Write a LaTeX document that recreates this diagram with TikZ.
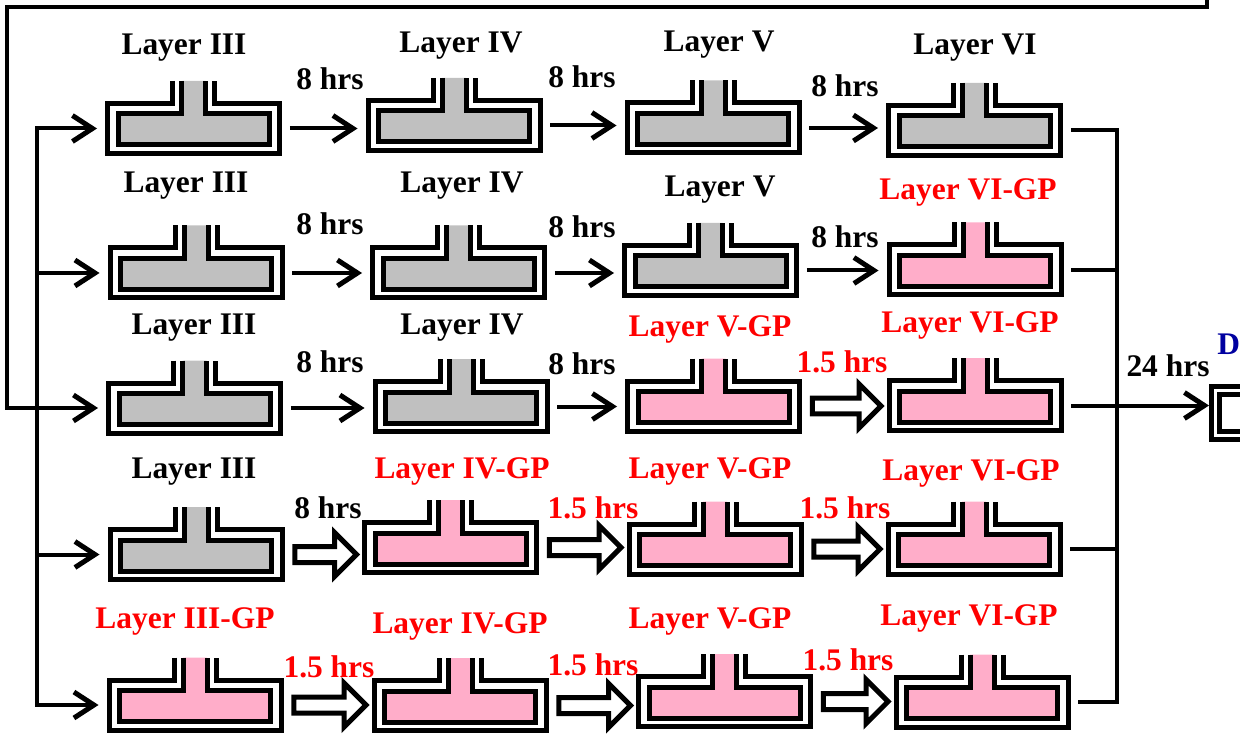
\documentclass[tikz,border=0pt]{standalone}
\usepackage{fontspec}
\setmainfont{Liberation Serif}
\usepackage{xcolor}
\usetikzlibrary{positioning, shapes.arrows, arrows.meta, calc}

\definecolor{moldgrey}{HTML}{C0C0C0}
\definecolor{gppink}{HTML}{FFADC9}
\definecolor{dryblue}{HTML}{0000A0}

\tikzset{
  moldline/.style={line width=1mm, line join=miter},
  link/.style={line width=0.8mm},
  flow/.style={link, -{Straight Barb[length=4mm, width=5.2mm, line width=1mm]}},
  fatarrow/.style={single arrow, draw, fill=white, line width=1mm, inner xsep=0pt, inner ysep=1.1mm,
    single arrow head extend=2.8mm, anchor=tail},
  hollow/.style={to path={let \p1=(\tikztostart), \p2=(\tikztotarget), \n1={veclen(\x2-\x1,\y2-\y1)} in
    node[fatarrow, minimum height=\n1] at (\tikztostart) {}}},
  lab/.style={font=\bfseries\fontsize{17.9pt}{20pt}\selectfont, inner sep=0pt, anchor=base},
  gp/.style={lab, text=red},
  moldbox/.style={minimum width=34.4mm, minimum height=10mm, inner sep=0pt, outer xsep=2.1mm},
  drybox/.style={draw, moldline, minimum width=4cm, minimum height=10.6mm, inner sep=0pt},
  pics/mold/.style={code={
    \fill[#1] (-12,-47.5) -- (-12,-14.5) -- (-75.5,-14.5) -- (-75.5,16.5) -- (75.5,16.5) -- (75.5,-14.5) -- (12,-14.5) -- (12,-47.5) -- cycle;
    \draw[moldline] (-12,-47.5) -- (-12,-14.5) -- (-75.5,-14.5) -- (-75.5,16.5) -- (75.5,16.5) -- (75.5,-14.5) -- (12,-14.5) -- (12,-47.5);
    \draw[moldline] (-21,-47.5) -- (-21,-25) -- (-86,-25) -- (-86,25) -- (86,25) -- (86,-25) -- (21,-25) -- (21,-47.5);
    \node[moldbox] (-b) at (0,0) {};
  }}
}

\begin{document}
\begin{tikzpicture}[x=0.02cm, y=-0.02cm]
  \clip (0,0) rectangle (1240,736);

  % Row 1: all layers plain
  \pic (m11) at (193.5,128.5) {mold=moldgrey};
  \pic (m12) at (454,125.5) {mold=moldgrey};
  \pic (m13) at (713,128) {mold=moldgrey};
  \pic (m14) at (974.5,130.5) {mold=moldgrey};
  \node[lab] (l11) at (184,55) {Layer III};
  \node[lab] (l12) at (461,53) {Layer IV};
  \node[lab] (l13) at (719,52) {Layer V};
  \node[lab] (l14) at (975,55) {Layer VI};
  \node[lab] (t11) at (330,90) {8 hrs};
  \node[lab] (t12) at (582,88) {8 hrs};
  \node[lab] (t13) at (845,97) {8 hrs};
  \draw[flow] (m11-b.east) -- (m11-b.east -| m12-b.west);
  \draw[flow] (m12-b.east) -- (m12-b.east -| m13-b.west);
  \draw[flow] (m13-b.east) -- (m13-b.east -| m14-b.west);

  % Row 2: GP on layer VI
  \pic (m21) at (196,273) {mold=moldgrey};
  \pic (m22) at (458.5,273) {mold=moldgrey};
  \pic (m23) at (710.5,270.5) {mold=moldgrey};
  \pic (m24) at (975,270) {mold=gppink};
  \node[lab] (l21) at (186,193) {Layer III};
  \node[lab] (l22) at (462,193) {Layer IV};
  \node[lab] (l23) at (720,197) {Layer V};
  \node[gp] (l24) at (968,200) {Layer VI-GP};
  \node[lab] (t21) at (330,235) {8 hrs};
  \node[lab] (t22) at (582,238) {8 hrs};
  \node[lab] (t23) at (845,248) {8 hrs};
  \draw[flow] (m21-b.east) -- (m21-b.east -| m22-b.west);
  \draw[flow] (m22-b.east) -- (m22-b.east -| m23-b.west);
  \draw[flow] (m23-b.east) -- (m23-b.east -| m24-b.west);

  % Row 3: GP on layers V and VI
  \pic (m31) at (194.5,408) {mold=moldgrey};
  \pic (m32) at (461,406.5) {mold=moldgrey};
  \pic (m33) at (713.5,406) {mold=gppink};
  \pic (m34) at (975,405.5) {mold=gppink};
  \node[lab] (l31) at (194,335) {Layer III};
  \node[lab] (l32) at (462,335) {Layer IV};
  \node[gp] (l33) at (710,337) {Layer V-GP};
  \node[gp] (l34) at (970,333) {Layer VI-GP};
  \node[lab] (t31) at (330,373) {8 hrs};
  \node[lab] (t32) at (582,375) {8 hrs};
  \node[gp] (t33) at (842,372) {1.5 hrs};
  \draw[flow] (m31-b.east) -- (m31-b.east -| m32-b.west);
  \draw[flow] (m32-b.east) -- (m32-b.east -| m33-b.west);
  \path[hollow] (m33-b.east) to (m33-b.east -| m34-b.west);

  % Row 4: GP from layer IV
  \pic (m41) at (196,554.5) {mold=moldgrey};
  \pic (m42) at (450.5,547.5) {mold=gppink};
  \pic (m43) at (715,549) {mold=gppink};
  \pic (m44) at (974,549) {mold=gppink};
  \node[lab] (l41) at (194,478) {Layer III};
  \node[gp] (l42) at (462,478) {Layer IV-GP};
  \node[gp] (l43) at (710,478) {Layer V-GP};
  \node[gp] (l44) at (971,480) {Layer VI-GP};
  \node[lab] (t41) at (328,518) {8 hrs};
  \node[gp] (t42) at (593,518) {1.5 hrs};
  \node[gp] (t43) at (845,518) {1.5 hrs};
  \path[hollow] (m41-b.east) to (m41-b.east -| m42-b.west);
  \path[hollow] (m42-b.east) to (m42-b.east -| m43-b.west);
  \path[hollow] (m43-b.east) to (m43-b.east -| m44-b.west);

  % Row 5: GP on every layer
  \pic (m51) at (195,705) {mold=gppink};
  \pic (m52) at (460,705.5) {mold=gppink};
  \pic (m53) at (724.5,701.5) {mold=gppink};
  \pic (m54) at (982,702) {mold=gppink};
  \node[gp] (l51) at (185,628) {Layer III-GP};
  \node[gp] (l52) at (460,633) {Layer IV-GP};
  \node[gp] (l53) at (710,628) {Layer V-GP};
  \node[gp] (l54) at (969,625) {Layer VI-GP};
  \node[gp] (t51) at (329,677) {1.5 hrs};
  \node[gp] (t52) at (593,675) {1.5 hrs};
  \node[gp] (t53) at (848,670) {1.5 hrs};
  \path[hollow] (m51-b.east) to (m51-b.east -| m52-b.west);
  \path[hollow] (m52-b.east) to (m52-b.east -| m53-b.west);
  \path[hollow] (m53-b.east) to (m53-b.east -| m54-b.west);

  % feed lines on the left
  \coordinate (back) at (1207,-20);
  \coordinate (tl) at (7,7.5);
  \coordinate (tcol) at (37,0);
  \coordinate (split) at (tcol |- m31-b.west);
  \draw[flow] (back) |- (tl) |- (m31-b.west);
  \draw[flow] (split) |- (m11-b.west);
  \draw[flow] (split) |- (m51-b.west);
  \draw[flow] (split |- m21-b.west) -- (m21-b.west);
  \draw[flow] (split |- m41-b.west) -- (m41-b.west);

  % merge on the right
  \coordinate (mg) at (1117,0);
  \coordinate (dx) at (1209,384);
  \node[drybox, anchor=north west] (dry) at (dx) {};
  \draw[moldline] ([shift={(10,10)}]dry.north west) rectangle ([shift={(-10,-10)}]dry.south east);
  \node[lab, text=dryblue, anchor=base west] (dlab) at (1217,355) {D};
  \draw[link] (m14-b.east) -| (mg |- m34-b.east);
  \draw[link] (m54-b.east) -| (mg |- m34-b.east);
  \draw[link] (m24-b.east) -- (m24-b.east -| mg);
  \draw[link] (m44-b.east) -- (m44-b.east -| mg);
  \draw[flow] (m34-b.east) -- (m34-b.east -| dry.west);
  \node[lab] (t34) at (1168,377) {24 hrs};
\end{tikzpicture}
\end{document}
